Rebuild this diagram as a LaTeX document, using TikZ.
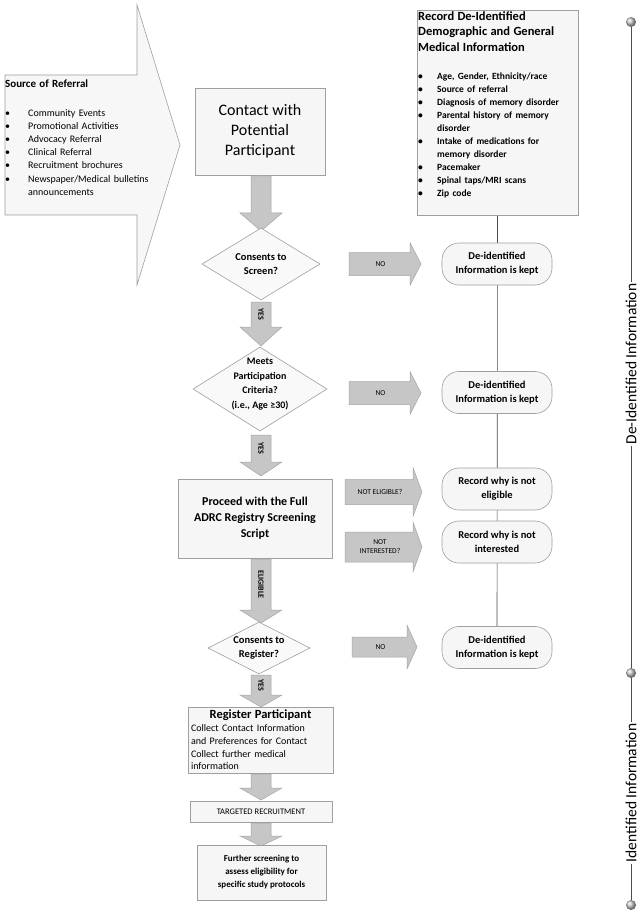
\documentclass[tikz,border=0pt]{standalone}
\usepackage{fontspec}
\setmainfont{Carlito}
\usetikzlibrary{shapes.geometric,backgrounds}

\newcommand{\nl}{\hfil\break}
\newcommand{\bul}[1]{\par\noindent\hangindent=19pt\hangafter=1\makebox[19pt][l]{\textbullet}#1}
\newcommand{\bulS}[1]{\par\noindent\hangindent=23pt\hangafter=1\makebox[23pt][l]{\textbullet}#1}

% down block arrow: name, xc, ytop, yhead, ytip, label
\newcommand{\myDArrow}[6]{%
  \draw[blk] ({#2-10},#3) -- ({#2+10},#3) -- ({#2+10},#4) -- ({#2+21},#4) -- (#2,#5) -- ({#2-21},#4) -- ({#2-10},#4) -- cycle;
  \node[vlbl] (#1) at (#2,{(#3+#4)/2}) {#6};}
% right block arrow: name, x0, xhead, xtip, yc, shaft half, head half, label
\newcommand{\myRArrow}[8]{%
  \draw[blk] (#2,{#5-#6}) -- (#3,{#5-#6}) -- (#3,{#5-#7}) -- (#4,#5) -- (#3,{#5+#7}) -- (#3,{#5+#6}) -- (#2,{#5+#6}) -- cycle;
  \node[hlbl] (#1) at ({(#2+#3)/2+1},#5) {#8};}

\tikzset{
  box/.style={draw=gray!75, line width=0.6pt, fill=gray!7, inner sep=0pt, align=center},
  dia/.style={diamond, draw=gray!75, line width=0.6pt, fill=gray!5, inner sep=0pt},
  diatxt/.style={inner sep=0pt, align=center, font=\bfseries\fontsize{10.5}{14.5}\selectfont},
  rbox/.style={draw=gray!75, line width=0.6pt, fill=gray!7, rounded corners=17pt,
    minimum width=110pt, minimum height=42pt, inner sep=0pt, align=center,
    font=\bfseries\fontsize{10.5}{14}\selectfont},
  blk/.style={draw=gray!70, line width=0.5pt, fill=gray!45},
  vlbl/.style={rotate=-90, inner sep=0pt, font=\bfseries\fontsize{8}{9}\selectfont},
  hlbl/.style={inner sep=0pt, align=center, font=\fontsize{7.5}{9}\selectfont},
  tdot/.style={circle, minimum size=10pt, inner sep=0pt, shading=ball, ball color=gray!45},
  tline/.style={draw=gray!60!black, line width=0.6pt},
  tlbl/.style={rotate=90, fill=white, inner sep=2pt, font=\fontsize{15.5}{18}\selectfont},
}

\begin{document}
\begin{tikzpicture}[x=1pt,y=-1pt]
\useasboundingbox (0,0) rectangle (643,917);

% source of referral big arrow
\draw[draw=gray!75, line width=0.6pt, fill=gray!6]
  (5,75) -- (137,75) -- (137,5) -- (180,145) -- (137,285) -- (137,215) -- (5,215) -- cycle;
\node[anchor=north west, inner sep=0pt, text width=170pt, align=left] (src) at (5,80) {%
  \raggedright
  {\bfseries\fontsize{11}{13}\selectfont Source of Referral\par}
  \vspace{15pt}
  {\fontsize{10}{13.2}\selectfont\raggedright
  \bulS{Community Events}
  \bulS{Promotional Activities}
  \bulS{Advocacy Referral}
  \bulS{Clinical Referral}
  \bulS{Recruitment brochures}
  \bulS{Newspaper/Medical bulletins\nl announcements}\par}};

% main column
\node[box, minimum width=130pt, minimum height=87pt, font=\fontsize{16}{20}\selectfont] (contact) at (260,131.5) {Contact with\\Potential\\Participant};
\myDArrow{a1}{261}{176}{213}{231}{}

\node[dia, minimum width=118pt, minimum height=72pt] (d1) at (261,264) {};
\node[diatxt] (d1t) at (261,264) {Consents to\\Screen?};
\myDArrow{a2}{261}{302}{327}{346}{YES}

\node[dia, minimum width=134pt, minimum height=84pt] (d2) at (260,389) {};
\node[diatxt, font=\bfseries\fontsize{10}{14.5}\selectfont] (d2t) at (260,384) {Meets\\Participation\\Criteria?\\(i.e., Age ≥30)};
\myDArrow{a3}{261}{435}{462}{476}{YES}

\node[box, minimum width=154pt, minimum height=79pt, font=\bfseries\fontsize{12}{16}\selectfont] (proc) at (255,518.5) {Proceed with the Full\\ADRC Registry Screening\\Script};
\myDArrow{a4}{261}{559}{610}{623}{ELIGIBLE}

\node[dia, minimum width=102pt, minimum height=52pt] (d3) at (259,648) {};
\node[diatxt] (d3t) at (259,648) {Consents to\\Register?};
\myDArrow{a5}{261}{675}{695}{707}{YES}

\node[box, minimum width=145pt, minimum height=66pt, text width=139pt, align=left] (reg) at (260.5,740) {%
  {\bfseries\fontsize{12.5}{14}\selectfont\centering Register Participant\par}
  {\fontsize{10}{12.8}\selectfont\raggedright Collect Contact Information\nl and Preferences for Contact\nl Collect further medical\nl information\par}};
\myDArrow{a6}{261}{774}{788}{800}{}

\node[box, minimum width=142pt, minimum height=21pt, font=\fontsize{8.5}{10}\selectfont] (targ) at (261,811.5) {TARGETED RECRUITMENT};
\myDArrow{a7}{261}{823}{836}{846}{}

\node[box, minimum width=129pt, minimum height=55pt, font=\bfseries\fontsize{9}{13}\selectfont] (fur) at (261.5,872.5) {Further screening to\\assess eligibility for\\specific study protocols};

% right column
\node[box, minimum width=161pt, minimum height=205pt] (rec) at (497.5,112.5) {};
\node[anchor=north west, inner sep=0pt, text width=165pt, align=left] (rect) at (418,11.5) {%
  \raggedright
  {\bfseries\fontsize{12.5}{15.5}\selectfont Record De-Identified\\Demographic and General\\Medical Information\par}
  \vspace{15pt}
  {\bfseries\fontsize{9.5}{13}\selectfont\raggedright
  \bul{Age, Gender, Ethnicity/race}
  \bul{Source of referral}
  \bul{Diagnosis of memory disorder}
  \bul{Parental history of memory\nl disorder}
  \bul{Intake of medications for\nl memory disorder}
  \bul{Pacemaker}
  \bul{Spinal taps/MRI scans}
  \bul{Zip code}\par}};

\node[rbox] (r1) at (497,264) {De-identified\\Information is kept};
\node[rbox] (r2) at (497,392.5) {De-identified\\Information is kept};
\node[rbox] (r3) at (497,489) {Record why is not\\eligible};
\node[rbox] (r4) at (497,542) {Record why is not\\interested};
\node[rbox] (r5) at (497,647.5) {De-identified\\Information is kept};

\myRArrow{h1}{349}{410}{421}{264}{11.5}{21.5}{NO}
\myRArrow{h2}{349}{410}{421}{393}{11.5}{21.5}{NO}
\myRArrow{h3}{345}{413}{422}{492}{12.5}{24.5}{NOT ELIGIBLE?}
\myRArrow{h4}{345}{413}{422}{547}{15}{25}{NOT\\INTERESTED?}
\myRArrow{h5}{352}{407}{417}{647}{10}{22}{NO}

% timeline
\node[tdot] (t1) at (631,22) {};
\node[tdot] (t2) at (631,673) {};
\node[tdot] (t3) at (631,905) {};

\begin{pgfonlayer}{background}
  \fill[white] (0,0) rectangle (643,917);
  \draw[tline] (rec.south) -- (r5.north);
  \draw[tline] (t1) -- (t2);
  \draw[tline] (t2) -- (t3);
\end{pgfonlayer}
\node[tlbl] (tl1) at (631,364) {De-Identified Information};
\node[tlbl] (tl2) at (631,793) {Identified Information};
\end{tikzpicture}
\end{document}
